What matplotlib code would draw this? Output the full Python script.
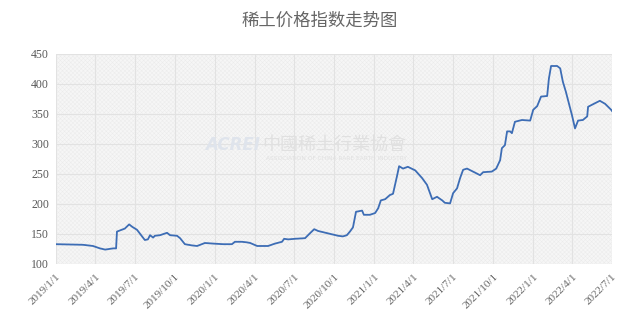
import pandas as pd
import matplotlib
matplotlib.use("Agg")
import matplotlib.pyplot as plt

plt.rcParams['font.family'] = ['Noto Sans CJK SC', 'DejaVu Sans']
plt.rcParams['hatch.linewidth'] = 0.35

# Rare earth price index
dates = [
    "2019-01-01", "2019-03-04", "2019-03-27", "2019-04-12", "2019-04-24", "2019-05-12",
    "2019-05-19", "2019-05-21", "2019-06-08", "2019-06-18", "2019-06-25", "2019-07-06",
    "2019-07-24", "2019-07-31", "2019-08-05", "2019-08-12", "2019-08-16", "2019-08-28",
    "2019-09-13", "2019-09-20", "2019-10-06", "2019-10-13", "2019-10-24", "2019-11-09",
    "2019-11-21", "2019-12-09", "2019-12-28", "2020-01-20", "2020-02-09", "2020-02-16",
    "2020-03-03", "2020-03-15", "2020-03-22", "2020-04-07", "2020-05-02", "2020-05-18",
    "2020-06-03", "2020-06-08", "2020-06-17", "2020-07-03", "2020-07-26", "2020-08-06",
    "2020-08-16", "2020-08-25", "2020-09-17", "2020-10-10", "2020-10-21", "2020-10-30",
    "2020-11-06", "2020-11-13", "2020-11-20", "2020-12-04", "2020-12-08", "2020-12-22",
    "2021-01-03", "2021-01-10", "2021-01-16", "2021-01-26", "2021-02-06", "2021-02-13",
    "2021-02-22", "2021-02-27", "2021-03-08", "2021-03-19", "2021-04-05", "2021-04-21",
    "2021-05-02", "2021-05-09", "2021-05-14", "2021-05-25", "2021-06-06", "2021-06-12",
    "2021-06-24", "2021-07-01", "2021-07-10", "2021-07-17", "2021-07-24", "2021-08-02",
    "2021-08-13", "2021-09-01", "2021-09-08", "2021-09-28", "2021-10-08", "2021-10-17",
    "2021-10-21", "2021-10-28", "2021-11-02", "2021-11-09", "2021-11-13", "2021-11-20",
    "2021-12-06", "2021-12-25", "2022-01-01", "2022-01-10", "2022-01-19", "2022-02-02",
    "2022-02-06", "2022-02-11", "2022-02-25", "2022-03-04", "2022-03-10", "2022-03-17",
    "2022-03-27", "2022-03-31", "2022-04-07", "2022-04-14", "2022-04-25", "2022-05-05",
    "2022-05-07", "2022-05-23", "2022-06-03", "2022-06-15", "2022-06-29", "2022-07-01",
]
values = [
    133, 132, 130, 126, 124, 126,
    126, 154, 159, 166, 162, 157,
    140, 141, 148, 144, 147, 148,
    152, 148, 147, 143, 133, 131,
    130, 135, 134, 133, 133, 137,
    137, 136, 135, 130, 130, 134,
    137, 142, 141, 142, 143, 151,
    158, 155, 151, 147, 146, 148,
    154, 161, 187, 189, 182, 182,
    185, 193, 206, 208, 215, 217,
    246, 263, 259, 262, 256, 243,
    232, 218, 208, 212, 206, 202,
    201, 218, 226, 243, 257, 259,
    255, 248, 253, 254, 259, 273,
    293, 298, 321, 321, 318, 337,
    340, 339, 357, 363, 379, 380,
    409, 430, 430, 426, 404, 387,
    359, 348, 326, 339, 340, 346,
    362, 368, 372, 367, 357, 355,
]

tick_dates = pd.date_range("2019-01-01", "2022-07-01", freq="QS")
tick_labels = [f"{d.year}/{d.month}/{d.day}" for d in tick_dates]

x = pd.to_datetime(dates)

fig = plt.figure(figsize=(6.4, 3.21), dpi=100)
ax = fig.add_axes([0.0875, 0.1776, 0.8688, 0.6542])

ax.set_facecolor('#f6f6f6')
ax.patch.set_hatch('xxxxxxxx')
ax.patch.set_edgecolor('#ebebeb')
ax.patch.set_linewidth(0)

ax.plot(x, values, color='#3d6db5', linewidth=1.3, zorder=3)

ax.set_xlim(pd.Timestamp("2019-01-01"), pd.Timestamp("2022-07-01"))
ax.set_ylim(100, 450)
ax.set_yticks(range(100, 451, 50))
ax.set_xticks(tick_dates)
ax.set_xticklabels(tick_labels, rotation=45, ha='right', rotation_mode='anchor')

for lbl in ax.get_xticklabels() + ax.get_yticklabels():
    lbl.set_fontfamily('Liberation Serif')
    lbl.set_fontsize(8.5)
    lbl.set_color('#5a5a5a')
for lbl in ax.get_xticklabels():
    lbl.set_fontsize(8)
    lbl.set_color('#666666')

ax.tick_params(length=0, pad=5)
ax.tick_params(axis='x', pad=6)
ax.grid(True, color='#e2e2e2', linewidth=0.8)
ax.set_axisbelow(True)
for s in ax.spines.values():
    s.set_visible(False)

# watermark
fig.text(0.32, 0.548, "ACREI", fontsize=12, fontstyle='italic', fontweight='bold',
         color='#dfe4ec', family='DejaVu Sans', ha='left', va='center', zorder=1)
fig.text(0.41, 0.548, "中國稀土行業協會", fontsize=13, color='#e0e0e0',
         ha='left', va='center', zorder=1)
fig.text(0.415, 0.505, "ASSOCIATION OF CHINA RARE EARTH INDUSTRY", fontsize=4.2,
         color='#e0e0e0', family='DejaVu Sans', ha='left', va='center', zorder=1)

fig.text(0.5, 0.935, "稀土价格指数走势图", ha='center', va='center',
         fontsize=12.5, color='#666666')

fig.savefig("out.png", dpi=100)
